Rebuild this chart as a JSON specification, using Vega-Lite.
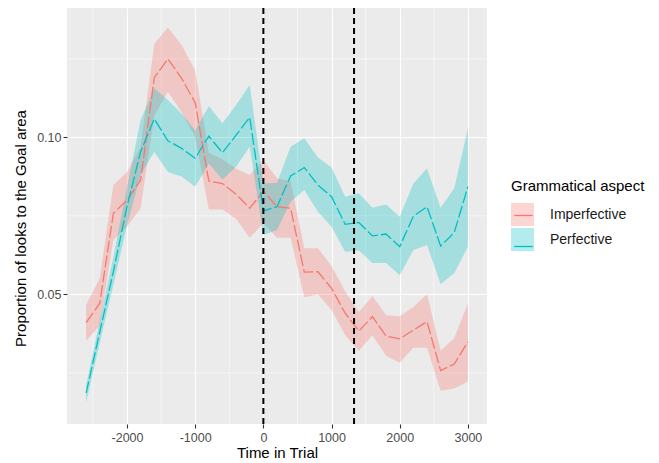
{
  "$schema": "https://vega.github.io/schema/vega-lite/v6.json",
  "width": 420,
  "height": 416,
  "autosize": {"type": "none"},
  "padding": {"left": 67, "top": 8, "right": 172, "bottom": 39},
  "background": "white",
  "config": {
    "font": "Liberation Sans",
    "view": {"fill": "#EBEBEB", "stroke": null},
    "axis": {
      "domain": false,
      "grid": true,
      "gridColor": "white",
      "gridWidth": 1.1,
      "tickColor": "#333333",
      "tickSize": 4,
      "tickWidth": 1.1,
      "labelFontSize": 12.5,
      "labelColor": "#4D4D4D",
      "labelPadding": 2,
      "titleFontSize": 15,
      "titleFontWeight": "normal",
      "titleColor": "black"
    },
    "legend": {
      "titleFontSize": 15,
      "titleFontWeight": "normal",
      "titleColor": "black",
      "labelFontSize": 14,
      "labelColor": "#1A1A1A"
    }
  },
  "datasets": {
    "main": [
      {"t": -2600, "aspect": "Imperfective", "mean": 0.041, "lo": 0.0352, "hi": 0.0466},
      {"t": -2400, "aspect": "Imperfective", "mean": 0.0471, "lo": 0.040, "hi": 0.0551},
      {"t": -2200, "aspect": "Imperfective", "mean": 0.0758, "lo": 0.0673, "hi": 0.0848},
      {"t": -2000, "aspect": "Imperfective", "mean": 0.080, "lo": 0.0715, "hi": 0.089},
      {"t": -1800, "aspect": "Imperfective", "mean": 0.0864, "lo": 0.0774, "hi": 0.097},
      {"t": -1600, "aspect": "Imperfective", "mean": 0.119, "lo": 0.107, "hi": 0.1297},
      {"t": -1400, "aspect": "Imperfective", "mean": 0.125, "lo": 0.1145, "hi": 0.135},
      {"t": -1200, "aspect": "Imperfective", "mean": 0.1188, "lo": 0.108, "hi": 0.1294},
      {"t": -1000, "aspect": "Imperfective", "mean": 0.111, "lo": 0.100, "hi": 0.1214},
      {"t": -800, "aspect": "Imperfective", "mean": 0.0861, "lo": 0.077, "hi": 0.095},
      {"t": -600, "aspect": "Imperfective", "mean": 0.0853, "lo": 0.077, "hi": 0.093},
      {"t": -400, "aspect": "Imperfective", "mean": 0.0819, "lo": 0.074, "hi": 0.090},
      {"t": -200, "aspect": "Imperfective", "mean": 0.0774, "lo": 0.068, "hi": 0.088},
      {"t": 0, "aspect": "Imperfective", "mean": 0.0829, "lo": 0.0727, "hi": 0.0928},
      {"t": 200, "aspect": "Imperfective", "mean": 0.0779, "lo": 0.068, "hi": 0.087},
      {"t": 400, "aspect": "Imperfective", "mean": 0.0774, "lo": 0.068, "hi": 0.086},
      {"t": 600, "aspect": "Imperfective", "mean": 0.0571, "lo": 0.0491, "hi": 0.0647},
      {"t": 800, "aspect": "Imperfective", "mean": 0.0572, "lo": 0.050, "hi": 0.0647},
      {"t": 1000, "aspect": "Imperfective", "mean": 0.0519, "lo": 0.045, "hi": 0.059},
      {"t": 1200, "aspect": "Imperfective", "mean": 0.044, "lo": 0.037, "hi": 0.051},
      {"t": 1400, "aspect": "Imperfective", "mean": 0.0383, "lo": 0.032, "hi": 0.0444},
      {"t": 1600, "aspect": "Imperfective", "mean": 0.0429, "lo": 0.037, "hi": 0.0495},
      {"t": 1800, "aspect": "Imperfective", "mean": 0.0367, "lo": 0.0304, "hi": 0.0433},
      {"t": 2000, "aspect": "Imperfective", "mean": 0.0358, "lo": 0.0282, "hi": 0.043},
      {"t": 2200, "aspect": "Imperfective", "mean": 0.0386, "lo": 0.033, "hi": 0.046},
      {"t": 2400, "aspect": "Imperfective", "mean": 0.0413, "lo": 0.033, "hi": 0.050},
      {"t": 2600, "aspect": "Imperfective", "mean": 0.0257, "lo": 0.0193, "hi": 0.032},
      {"t": 2800, "aspect": "Imperfective", "mean": 0.0278, "lo": 0.020, "hi": 0.0361},
      {"t": 3000, "aspect": "Imperfective", "mean": 0.0349, "lo": 0.0222, "hi": 0.0471},
      {"t": -2600, "aspect": "Perfective", "mean": 0.0185, "lo": 0.0155, "hi": 0.021},
      {"t": -2400, "aspect": "Perfective", "mean": 0.038, "lo": 0.0345, "hi": 0.0415},
      {"t": -2200, "aspect": "Perfective", "mean": 0.0572, "lo": 0.053, "hi": 0.062},
      {"t": -2000, "aspect": "Perfective", "mean": 0.078, "lo": 0.072, "hi": 0.084},
      {"t": -1800, "aspect": "Perfective", "mean": 0.0954, "lo": 0.088, "hi": 0.1055},
      {"t": -1600, "aspect": "Perfective", "mean": 0.1059, "lo": 0.0954, "hi": 0.1156},
      {"t": -1400, "aspect": "Perfective", "mean": 0.0989, "lo": 0.089, "hi": 0.1119},
      {"t": -1200, "aspect": "Perfective", "mean": 0.0965, "lo": 0.0875, "hi": 0.1076},
      {"t": -1000, "aspect": "Perfective", "mean": 0.0933, "lo": 0.0843, "hi": 0.1023},
      {"t": -800, "aspect": "Perfective", "mean": 0.1004, "lo": 0.0917, "hi": 0.110},
      {"t": -600, "aspect": "Perfective", "mean": 0.0951, "lo": 0.0866, "hi": 0.1045},
      {"t": -400, "aspect": "Perfective", "mean": 0.1007, "lo": 0.0906, "hi": 0.1103},
      {"t": -200, "aspect": "Perfective", "mean": 0.1064, "lo": 0.097, "hi": 0.1167},
      {"t": 0, "aspect": "Perfective", "mean": 0.0766, "lo": 0.0689, "hi": 0.0854},
      {"t": 200, "aspect": "Perfective", "mean": 0.0779, "lo": 0.0705, "hi": 0.0855},
      {"t": 400, "aspect": "Perfective", "mean": 0.0877, "lo": 0.0795, "hi": 0.097},
      {"t": 600, "aspect": "Perfective", "mean": 0.0904, "lo": 0.0832, "hi": 0.0997},
      {"t": 800, "aspect": "Perfective", "mean": 0.0848, "lo": 0.0763, "hi": 0.0936},
      {"t": 1000, "aspect": "Perfective", "mean": 0.0811, "lo": 0.0715, "hi": 0.0904},
      {"t": 1200, "aspect": "Perfective", "mean": 0.0723, "lo": 0.0636, "hi": 0.0811},
      {"t": 1400, "aspect": "Perfective", "mean": 0.0729, "lo": 0.064, "hi": 0.0822},
      {"t": 1600, "aspect": "Perfective", "mean": 0.0686, "lo": 0.060, "hi": 0.0776},
      {"t": 1800, "aspect": "Perfective", "mean": 0.0692, "lo": 0.060, "hi": 0.0786},
      {"t": 2000, "aspect": "Perfective", "mean": 0.0652, "lo": 0.0561, "hi": 0.0747},
      {"t": 2200, "aspect": "Perfective", "mean": 0.0749, "lo": 0.0641, "hi": 0.0853},
      {"t": 2400, "aspect": "Perfective", "mean": 0.0779, "lo": 0.0657, "hi": 0.0901},
      {"t": 2600, "aspect": "Perfective", "mean": 0.0654, "lo": 0.0533, "hi": 0.0776},
      {"t": 2800, "aspect": "Perfective", "mean": 0.0697, "lo": 0.0567, "hi": 0.0838},
      {"t": 3000, "aspect": "Perfective", "mean": 0.0843, "lo": 0.0652, "hi": 0.1029}
    ],
    "minorx": [{"t": -2500}, {"t": -1500}, {"t": -500}, {"t": 500}, {"t": 1500}, {"t": 2500}],
    "minory": [{"v": 0.025}, {"v": 0.075}, {"v": 0.125}],
    "vlines": [{"t": 0}, {"t": 1330}]
  },
  "layer": [
    {
      "data": {"name": "minorx"},
      "mark": {"type": "rule", "color": "white", "strokeWidth": 0.55},
      "encoding": {
        "x": {"field": "t", "type": "quantitative", "scale": {"domain": [-2880, 3280], "nice": false, "zero": false}, "axis": {"values": [-2000, -1000, 0, 1000, 2000, 3000], "labelExpr": "'' + datum.value", "title": "Time in Trial", "titlePadding": 2, "labelPadding": 3}}
      }
    },
    {
      "data": {"name": "minory"},
      "mark": {"type": "rule", "color": "white", "strokeWidth": 0.55},
      "encoding": {
        "y": {"field": "v", "type": "quantitative", "scale": {"domain": [0.0087, 0.1412], "nice": false, "zero": false}, "axis": {"values": [0.05, 0.1], "format": ".2f", "title": "Proportion of looks to the Goal area", "titlePadding": 8, "titleY": 220}}
      }
    },
    {
      "data": {"name": "main"},
      "mark": {"type": "area", "opacity": 0.3},
      "encoding": {
        "x": {"field": "t", "type": "quantitative", "title": "Time in Trial"},
        "y": {"field": "lo", "type": "quantitative", "title": "Proportion of looks to the Goal area"},
        "y2": {"field": "hi"},
        "fill": {
          "field": "aspect", "type": "nominal",
          "scale": {"domain": ["Imperfective", "Perfective"], "range": ["#F8766D", "#00BFC4"]},
          "legend": {"title": "Grammatical aspect", "orient": "none", "legendX": 444, "legendY": 171, "titlePadding": 9, "symbolType": "square", "symbolSize": 529, "symbolOpacity": 0.3, "symbolStrokeWidth": 0, "rowPadding": 2, "labelOffset": 16}
        }
      }
    },
    {
      "data": {"name": "main"},
      "mark": {"type": "line", "strokeWidth": 1.3, "strokeDash": [12, 3]},
      "encoding": {
        "x": {"field": "t", "type": "quantitative", "title": "Time in Trial"},
        "y": {"field": "mean", "type": "quantitative", "title": "Proportion of looks to the Goal area"},
        "stroke": {
          "field": "aspect", "type": "nominal",
          "scale": {"domain": ["Perfective", "Imperfective"], "range": ["#00BFC4", "#F8766D"]},
          "legend": {"title": " ", "values": ["Imperfective", "Perfective"], "labelExpr": "''", "orient": "none", "legendX": 444, "legendY": 171, "titlePadding": 9, "symbolType": "M-1,-1M1,1M-0.8,0L0.8,0", "symbolSize": 529, "symbolStrokeWidth": 1.3, "symbolFillColor": "transparent", "rowPadding": 2, "labelOffset": 16}
        }
      }
    },
    {
      "data": {"name": "vlines"},
      "mark": {"type": "rule", "color": "black", "strokeWidth": 2, "strokeDash": [6, 4]},
      "encoding": {
        "x": {"field": "t", "type": "quantitative"}
      }
    }
  ]
}
